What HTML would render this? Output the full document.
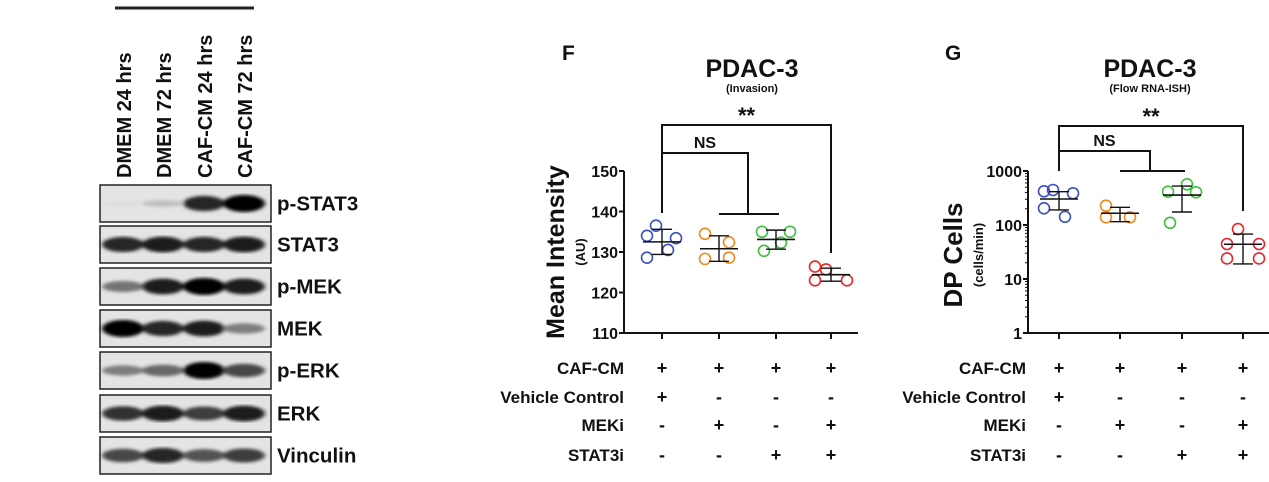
<!DOCTYPE html>
<html><head><meta charset="utf-8"><style>
body{margin:0;width:1269px;height:482px;background:#fff;overflow:hidden;font-family:"Liberation Sans",Arial,sans-serif}
svg{display:block}
text{font-family:"Liberation Sans",Arial,sans-serif;font-weight:bold;fill:#111}
</style></head><body>
<svg id="svg" width="1269" height="482">
<defs>
<filter id="blur"><feGaussianBlur stdDeviation="2.5 1.6"/></filter>
</defs>
<g id="blot"></g>
<g id="chartF"></g>
<g id="chartG"></g>
</svg>
<script>
const NS='http://www.w3.org/2000/svg';
function mk(parent,tag,attrs,txt){const e=document.createElementNS(NS,tag);for(const k in attrs)e.setAttribute(k,attrs[k]);if(txt!==undefined)e.textContent=txt;parent.appendChild(e);return e;}

// ---------- Western blot ----------
const laneLabels=['DMEM 24 hrs','DMEM 72 hrs','CAF-CM 24 hrs','CAF-CM 72 hrs'];
const blotRows=['p-STAT3','STAT3','p-MEK','MEK','p-ERK','ERK','Vinculin'];
const bandIntensity=[[0.02,0.15,0.85,1.0],[0.85,0.9,0.85,0.9],[0.5,0.9,1.0,0.9],[1.0,0.85,0.9,0.45],[0.45,0.55,1.0,0.7],[0.8,0.9,0.75,0.9],[0.7,0.85,0.65,0.75]];
const blot=document.getElementById('blot');
const lb=mk(blot,'line',{x1:115,y1:8,x2:254,y2:8,stroke:'#222','stroke-width':3});

const laneX=[123,163,204,244];
laneLabels.forEach((l,i)=>{
  const t=mk(blot,'text',{x:0,y:0,transform:`translate(${laneX[i]+8},178) rotate(-90)`,'font-size':20},l);
  
});
const rowTop=[185,226,268,310,352,395,437];
blotRows.forEach((r,ri)=>{
  const y=rowTop[ri],h=37;
  const rect=mk(blot,'rect',{x:100,y:y,width:171,height:h,fill:'#e4e4e4',stroke:'#222','stroke-width':1.5});
  
  const bg=mk(blot,'g',{filter:'url(#blur)'});
  bandIntensity[ri].forEach((v,li)=>{
    const hh=5+12*v, g=Math.round(225-220*v);
    const b=mk(bg,'ellipse',{cx:laneX[li],cy:y+h/2,rx:21,ry:hh/2,fill:`rgb(${g},${g},${g})`});
    
  });
  const t=mk(blot,'text',{x:277,y:y+h/2+7,'font-size':20.5},r);
  
});

// ---------- Data ----------
const groupColors=['#3b4fbf','#f08a1c','#3cbf3c','#e8262a'];
const fValues=[[136.5,134.0,133.4,128.6,130.5],[134.5,132.4,128.3,128.6],[135.0,135.0,132.3,130.3],[125.7,126.4,123.0,123.0]];
const fMean=[132.5,130.8,133.1,124.4];
const fErrHi=[135.6,134.0,135.4,126.0];
const fErrLo=[129.4,127.7,130.7,122.8];
const fTicks=[110,120,130,140,150];
const gValues=[[445,420,387,204,142],[228,139,139],[414,404,567,110],[84,44.5,44.5,24,24]];
const gMean=[303,165,359,44];
const gErrHi=[414,213,527,68];
const gErrLo=[190,115,174,19];
const gTicks=[1,10,100,1000];
const condRows=['CAF-CM','Vehicle Control','MEKi','STAT3i'];
const condMatrix=[['+','+','+','+'],['+','-','-','-'],['-','+','-','+'],['-','-','+','+']];
const jit=[[-6,-15,14,-15,6],[-14,10,-14,10],[-14,14,5,-12],[-5,-16,16,-16,16]];

function drawChart(gid,o){
  const g=document.getElementById(gid);
  const t1=mk(g,'text',{x:o.letterX,y:60,'font-size':21},o.letter);
  const t2=mk(g,'text',{x:o.titleX,y:77,'font-size':25,'text-anchor':'middle'},'PDAC-3');
  const t3=mk(g,'text',{x:o.titleX,y:92,'font-size':11,'text-anchor':'middle'},o.sub);
  const yt=mk(g,'text',{transform:`translate(${o.ytX},${o.ytY}) rotate(-90)`,'font-size':o.ytSize,'text-anchor':'middle'},o.ytitle);
  const yu=mk(g,'text',{transform:`translate(${o.ytX+21},${o.ytY}) rotate(-90)`,'font-size':13,'text-anchor':'middle'},o.yunit);
  const Y=o.yScale, ax=o.axisX, base=333;
  const ya=mk(g,'line',{x1:ax,y1:171,x2:ax,y2:base,stroke:'#111','stroke-width':2});
  const xa=mk(g,'line',{x1:ax,y1:base,x2:o.axisEnd,y2:base,stroke:'#111','stroke-width':2});
  o.ticks.forEach(v=>{
    const y=Y(v);
    mk(g,'line',{x1:ax-5,y1:y,x2:ax,y2:y,stroke:'#111','stroke-width':2});
    const tl=mk(g,'text',{x:ax-6,y:y+6,'font-size':16,'text-anchor':'end'},String(v));
    
  });
  if(o.log){for(let d=0;d<3;d++)for(let m=2;m<10;m++){const y=Y(m*Math.pow(10,d));mk(g,'line',{x1:ax-3,y1:y,x2:ax,y2:y,stroke:'#111','stroke-width':1});}}
  o.gx.forEach(x=>mk(g,'line',{x1:x,y1:base,x2:x,y2:base+6,stroke:'#111','stroke-width':2}));
  o.values.forEach((arr,gi)=>{
    const x=o.gx[gi];
    arr.forEach((v,pi)=>{
      const c=mk(g,'circle',{cx:x+jit[gi][pi%jit[gi].length],cy:Y(v),r:5.5,fill:'none',stroke:groupColors[gi],'stroke-width':1.6});
      
    });
    const m=mk(g,'line',{x1:x-19,y1:Y(o.mean[gi]),x2:x+19,y2:Y(o.mean[gi]),stroke:'#111','stroke-width':1.6});
    
    const e=mk(g,'line',{x1:x,y1:Y(o.hi[gi]),x2:x,y2:Y(o.lo[gi]),stroke:'#111','stroke-width':1.4});
    
    [o.hi[gi],o.lo[gi]].forEach(v=>mk(g,'line',{x1:x-10,y1:Y(v),x2:x+10,y2:Y(v),stroke:'#111','stroke-width':1.4}));
  });
  const b=o.br;
  const p1=mk(g,'polyline',{points:`${o.gx[0]},${b.s1} ${o.gx[0]},${b.top} ${o.gx[3]},${b.top} ${o.gx[3]},${b.s4}`,fill:'none',stroke:'#111','stroke-width':2});
  
  const p2=mk(g,'polyline',{points:`${o.gx[0]},${b.ns} ${b.nsX},${b.ns} ${b.nsX},${b.bar}`,fill:'none',stroke:'#111','stroke-width':2});
  
  mk(g,'line',{x1:o.gx[1],y1:b.bar,x2:o.gx[2]+3,y2:b.bar,stroke:'#111','stroke-width':2});
  const s=mk(g,'text',{x:(o.gx[0]+o.gx[3])/2,y:b.top-2,'font-size':22,'text-anchor':'middle'},'**');
  const n=mk(g,'text',{x:(o.gx[0]+b.nsX)/2,y:b.ns-5,'font-size':16,'text-anchor':'middle'},'NS');
  const rowY=[374,403,431,461];
  condRows.forEach((r,ri)=>{
    const rl=mk(g,'text',{x:o.labelX,y:rowY[ri],'font-size':17,'text-anchor':'end'},r);
    
    condMatrix[ri].forEach((c,ci)=>{
      const ct=mk(g,'text',{x:o.gx[ci],y:rowY[ri],'font-size':18,'text-anchor':'middle'},c);
      
    });
  });
}
drawChart('chartF',{letter:'F',letterX:562,titleX:752,sub:'(Invasion)',ytitle:'Mean Intensity',yunit:'(AU)',ytX:564,ytY:252,ytSize:25,
  axisX:624,axisEnd:858,yScale:v=>333-(v-110)*4.05,ticks:fTicks,log:false,gx:[662,719,776,831],
  values:fValues,mean:fMean,hi:fErrHi,lo:fErrLo,labelX:624,
  br:{top:125,s1:213,s4:253,ns:153,nsX:748,bar:214}});
drawChart('chartG',{letter:'G',letterX:945,titleX:1150,sub:'(Flow RNA-ISH)',ytitle:'DP Cells',yunit:'(cells/min)',ytX:962,ytY:255,ytSize:26,
  axisX:1028,axisEnd:1269,yScale:v=>333-Math.log10(v)*54,ticks:gTicks,log:true,gx:[1059,1120,1182,1243],
  values:gValues,mean:gMean,hi:gErrHi,lo:gErrLo,labelX:1026,
  br:{top:126,s1:171,s4:211,ns:151,nsX:1150,bar:171}});
</script>
</body></html>
